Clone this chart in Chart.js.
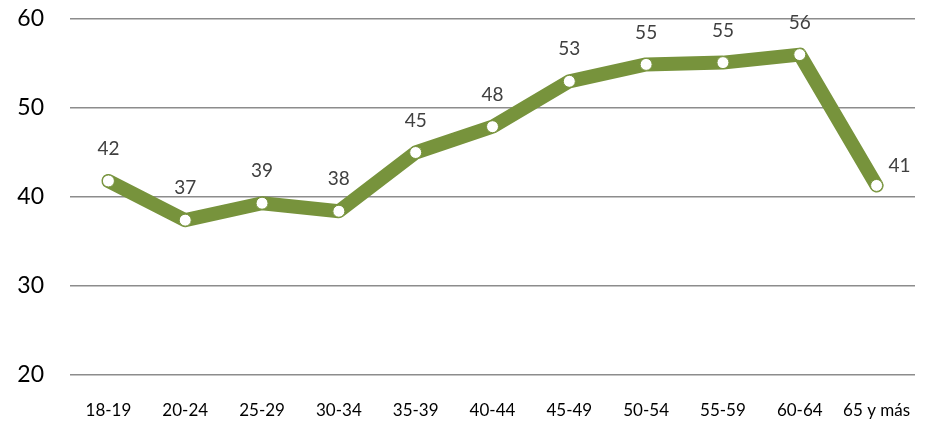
<!DOCTYPE html>
<html lang="es">
<head>
<meta charset="UTF-8">
<title>Grupos de edad</title>
<script src="https://cdn.jsdelivr.net/npm/chart.js"></script>
<style>
    html, body { margin: 0; padding: 0; background: #fff; }
    #wrap { width: 926px; height: 424px; position: relative; }
</style>
</head>
<body>
<div id="wrap"><canvas id="grafico"></canvas></div>

<script>
    // datos
    const categorias = ['18-19', '20-24', '25-29', '30-34', '35-39', '40-44', '45-49', '50-54', '55-59', '60-64', '65 y más'];
    const valores = [41.8, 37.4, 39.3, 38.4, 45.0, 47.9, 53.0, 54.9, 55.1, 56.0, 41.3];
    const etiquetas = ['42', '37', '39', '38', '45', '48', '53', '55', '55', '56', '41'];
    const ticksY = [20, 30, 40, 50, 60];

    const verde = '#77933C';
    const fuente = 'Lato, "Open Sans", sans-serif';

    // etiquetas de datos encima de cada punto (la ultima a la derecha)
    const etiquetasPlugin = {
        id: 'etiquetas',
        afterDatasetsDraw(chart) {
            const ctx = chart.ctx;
            const puntos = chart.getDatasetMeta(0).data;
            ctx.save();
            ctx.font = '19px ' + fuente;
            ctx.fillStyle = '#404040';
            ctx.textBaseline = 'middle';
            puntos.forEach((p, i) => {
                if (i === puntos.length - 1) {
                    ctx.textAlign = 'left';
                    ctx.fillText(etiquetas[i], p.x + 12, p.y - 20);
                } else {
                    ctx.textAlign = 'center';
                    ctx.fillText(etiquetas[i], p.x, p.y - 32);
                }
            });
            ctx.restore();
        }
    };

    new Chart(document.getElementById('grafico'), {
        type: 'line',
        data: {
            labels: categorias,
            datasets: [{
                data: valores,
                borderColor: verde,
                borderWidth: 14,
                borderJoinStyle: 'round',
                borderCapStyle: 'round',
                pointRadius: 6,
                pointBackgroundColor: '#fff',
                pointBorderColor: verde,
                pointBorderWidth: 1,
                tension: 0,
                clip: false
            }]
        },
        options: {
            responsive: true,
            maintainAspectRatio: false,
            animation: false,
            layout: { autoPadding: false, padding: { top: 19, right: 11, bottom: 0, left: 0 } },
            plugins: {
                legend: { display: false },
                tooltip: { enabled: false }
            },
            scales: {
                x: {
                    offset: true,
                    grid: { display: false, drawTicks: false },
                    border: { display: false },
                    ticks: {
                        color: '#000',
                        font: { family: fuente, size: 17 },
                        padding: 25,
                        maxRotation: 0,
                        autoSkip: false
                    },
                    afterFit(scale) {
                        scale.height = 49;
                        scale.paddingLeft = 0;
                        scale.paddingRight = 0;
                    }
                },
                y: {
                    min: 20,
                    max: 60,
                    afterBuildTicks(scale) { scale.ticks = ticksY.map(v => ({ value: v })); },
                    grid: { color: '#8c8c8c', lineWidth: 1.5, drawTicks: false },
                    border: { display: false },
                    ticks: {
                        color: '#000',
                        font: { family: fuente, size: 23 },
                        padding: 26
                    },
                    afterFit(scale) {
                        scale.width = 70;
                        scale.paddingTop = 0;
                        scale.paddingBottom = 0;
                    }
                }
            }
        },
        plugins: [etiquetasPlugin]
    });
</script>
</body>
</html>
